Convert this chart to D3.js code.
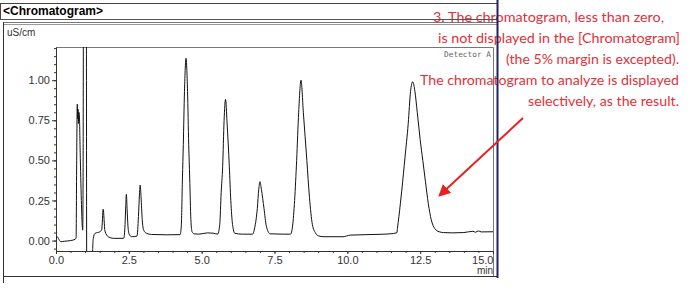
<!DOCTYPE html>
<html>
<head>
<meta charset="utf-8">
<style>
    body { margin: 0; background: #fff; }
    svg { display: block; }
    .tick text { font-family: 'Liberation Sans', Arial, sans-serif; font-size: 11px; fill: #333; }
    .tick line, .domain { stroke: #333; }
    .note { font-family: Lato, 'Noto Sans', sans-serif; font-size: 14px; fill: #e3303a; }
</style>
</head>
<body>
<svg width="690" height="308"></svg>
<script src="https://d3js.org/d3.v7.min.js"></script>
<script>
    // retention time (min) and conductivity (uS/cm)
    const times = [0.00, 0.04, 0.08, 0.16, 0.30, 0.50, 0.66, 0.69, 0.71, 0.73, 0.745, 0.755, 0.77, 0.785, 0.80, 0.83, 0.87, 0.905, 0.917, 0.93,
        0.945, 1.04, 1.055, 1.25, 1.26, 1.28, 1.34, 1.51, 1.57, 1.62, 1.68, 1.80, 1.97, 2.31,
        2.33, 2.37, 2.395, 2.415, 2.44, 2.47, 2.51, 2.60,
        2.78, 2.83, 2.865, 2.89, 2.92, 2.96, 3.01, 3.11, 3.28, 3.80,
        4.26, 4.30, 4.34, 4.37, 4.41, 4.463, 4.515, 4.555, 4.59, 4.63, 4.67, 4.74,
        4.90, 5.20, 5.40, 5.55, 5.62, 5.67, 5.72, 5.77, 5.82, 5.87, 5.95, 6.00, 6.06, 6.14, 6.40, 6.75, 6.82, 6.91, 6.96, 7.00,
        7.05, 7.14, 7.22, 7.35, 7.80, 8.05, 8.12, 8.19, 8.26, 8.33, 8.41, 8.49, 8.61, 8.70, 8.80, 8.90, 9.00, 9.20, 9.85, 10.10,
        11.12, 11.47, 11.70, 11.72, 11.77, 11.87, 11.98, 12.09, 12.17, 12.245, 12.32, 12.40, 12.50, 12.59, 12.68, 12.78, 12.88, 13.00, 13.15, 13.30,
        13.60, 14.00, 14.31, 14.40, 14.50, 14.60, 15.00];
    const signal = [0.011, 0.024, 0.014, -0.007, -0.004, 0.000, 0.008, 0.020, 0.50, 0.85, 0.76, 0.82, 0.73, 0.80, 0.79, 0.55, 0.25, 0.08, 0.065, 0.40,
        1.60, 1.60, -0.30, -0.30, -0.05, 0.014, 0.045, 0.055, 0.070, 0.195, 0.060, 0.023, 0.014, 0.014,
        0.016, 0.10, 0.22, 0.288, 0.20, 0.09, 0.040, 0.024,
        0.028, 0.15, 0.29, 0.346, 0.27, 0.13, 0.065, 0.045, 0.038, 0.036,
        0.037, 0.09, 0.39, 0.60, 0.93, 1.137, 0.93, 0.60, 0.39, 0.13, 0.055, 0.042,
        0.040, 0.048, 0.046, 0.040, 0.10, 0.30, 0.46, 0.75, 0.881, 0.74, 0.46, 0.25, 0.10, 0.045, 0.040, 0.040, 0.08, 0.20, 0.32, 0.367,
        0.32, 0.20, 0.09, 0.042, 0.040, 0.040, 0.09, 0.25, 0.50, 0.80, 1.00, 0.80, 0.50, 0.27, 0.10, 0.05, 0.030, 0.024, 0.024, 0.034,
        0.039, 0.042, 0.049, 0.076, 0.15, 0.315, 0.52, 0.73, 0.93, 0.99, 0.93, 0.80, 0.63, 0.50, 0.37, 0.23, 0.13, 0.075, 0.055, 0.050,
        0.048, 0.050, 0.058, 0.052, 0.060, 0.054, 0.055];

    const xTicks = [0, 2.5, 5, 7.5, 10, 12.5, 15];
    const yTicks = [0, 0.25, 0.5, 0.75, 1.0];

    const noteLines = [
        "3. The chromatogram, less than zero,",
        "is not displayed in the [Chromatogram]",
        "(the 5% margin is excepted).",
        "The chromatogram to analyze is displayed",
        "selectively, as the result."
    ];
    // start x, end x, baseline of each note line
    const notePos = [[433, 664, 22], [438, 680, 43], [506, 679, 64], [420, 679, 85], [528, 679, 106]];

    const svg = d3.select("svg");
    const plot = { left: 56, right: 493, top: 47, bottom: 251 };

    let x = d3.scaleLinear().domain([0, 15]).range([plot.left, plot.right]);
    let y = d3.scaleLinear().domain([-0.065, 1.207]).range([plot.bottom, plot.top]);

    // annotation text (behind frame lines, like the screenshot)
    svg.selectAll(".note")
        .data(noteLines)
        .join("text")
        .attr("class", "note")
        .attr("x", (d, i) => notePos[i][0])
        .attr("y", (d, i) => notePos[i][2])
        .attr("textLength", (d, i) => notePos[i][1] - notePos[i][0])
        .attr("lengthAdjust", "spacingAndGlyphs")
        .text(d => d);

    // outer frame
    let frame = svg.append("g").attr("fill", "none");
    frame.append("line").attr("x1", 0).attr("x2", 497).attr("y1", 3.5).attr("y2", 3.5).attr("stroke", "#444");
    frame.append("line").attr("x1", 0.5).attr("x2", 0.5).attr("y1", 3).attr("y2", 20).attr("stroke", "#444");
    frame.append("line").attr("x1", 0).attr("x2", 497).attr("y1", 19.5).attr("y2", 19.5).attr("stroke", "#555");
    frame.append("line").attr("x1", 3).attr("x2", 497).attr("y1", 22.5).attr("y2", 22.5).attr("stroke", "#777");
    frame.append("line").attr("x1", 3).attr("x2", 497).attr("y1", 24.5).attr("y2", 24.5).attr("stroke", "#999");
    frame.append("line").attr("x1", 3.5).attr("x2", 3.5).attr("y1", 22).attr("y2", 283).attr("stroke", "#333");
    frame.append("line").attr("x1", 3).attr("x2", 497).attr("y1", 276.5).attr("y2", 276.5).attr("stroke", "#333");
    frame.append("line").attr("x1", 497.5).attr("x2", 497.5).attr("y1", 0).attr("y2", 278)
        .attr("stroke", "#23235e").attr("stroke-width", 2);

    svg.append("text")
        .attr("x", 3).attr("y", 15)
        .attr("font-family", "'Liberation Sans', Arial, sans-serif")
        .attr("font-size", 12).attr("font-weight", "bold")
        .text("<Chromatogram>");

    svg.append("text")
        .attr("x", 7).attr("y", 36)
        .attr("font-family", "'Liberation Sans', Arial, sans-serif")
        .attr("font-size", 10).attr("fill", "#333")
        .text("uS/cm");

    // plot box (top and right)
    svg.append("path")
        .attr("d", `M${plot.left},${plot.top + 0.5}H${plot.right + 0.5}V${276}`)
        .attr("fill", "none").attr("stroke", "#777");

    // minor ticks
    svg.append("g")
        .attr("transform", `translate(${plot.left},0)`)
        .call(d3.axisLeft(y).tickValues(d3.range(-0.05, 1.201, 0.05)).tickSize(2).tickFormat(""))
        .call(g => g.select(".domain").remove());
    svg.append("g")
        .attr("transform", `translate(0,${plot.bottom})`)
        .call(d3.axisBottom(x).tickValues(d3.range(0, 15.01, 0.5)).tickSize(2).tickFormat(""))
        .call(g => g.select(".domain").remove());

    svg.append("g")
        .attr("class", "y axis")
        .attr("transform", `translate(${plot.left},0)`)
        .call(d3.axisLeft(y).tickValues(yTicks).tickSize(4).tickSizeOuter(0).tickPadding(2).tickFormat(d3.format(".2f")));

    let xAxis = svg.append("g")
        .attr("class", "x axis")
        .attr("transform", `translate(0,${plot.bottom})`)
        .call(d3.axisBottom(x).tickValues(xTicks).tickSize(3).tickSizeOuter(0).tickFormat(d3.format(".1f")));
    xAxis.selectAll(".tick text").attr("y", 5);
    xAxis.selectAll(".tick text").filter(d => d === 15).attr("text-anchor", "end");

    svg.append("text")
        .attr("x", plot.right).attr("y", 273.5)
        .attr("text-anchor", "end")
        .attr("font-family", "'Liberation Sans', Arial, sans-serif")
        .attr("font-size", 10).attr("fill", "#333")
        .text("min");

    svg.append("text")
        .attr("x", 491).attr("y", 57)
        .attr("text-anchor", "end")
        .attr("font-family", "'DejaVu Sans Mono', monospace")
        .attr("font-size", 7.8).attr("fill", "#666")
        .text("Detector A");

    // trace
    svg.append("clipPath").attr("id", "clip")
        .append("rect")
        .attr("x", plot.left).attr("y", plot.top)
        .attr("width", plot.right - plot.left).attr("height", plot.bottom - plot.top);

    let line = d3.line()
        .x(d => x(d[0]))
        .y(d => y(d[1]))
        .curve(d3.curveMonotoneX);

    svg.append("path")
        .datum(d3.zip(times, signal))
        .attr("clip-path", "url(#clip)")
        .attr("fill", "none")
        .attr("stroke", "#111")
        .attr("stroke-width", 1)
        .attr("d", line);

    // red arrow
    svg.append("defs").append("marker")
        .attr("id", "head")
        .attr("viewBox", "0 0 10 10")
        .attr("refX", 8).attr("refY", 5)
        .attr("markerWidth", 6).attr("markerHeight", 6)
        .attr("orient", "auto")
        .append("path")
        .attr("d", "M0,0L10,5L0,10z")
        .attr("fill", "#e52222");

    svg.append("line")
        .attr("x1", 523).attr("y1", 118)
        .attr("x2", 440).attr("y2", 195)
        .attr("stroke", "#e52222")
        .attr("stroke-width", 2)
        .attr("marker-end", "url(#head)");
</script>
</body>
</html>
